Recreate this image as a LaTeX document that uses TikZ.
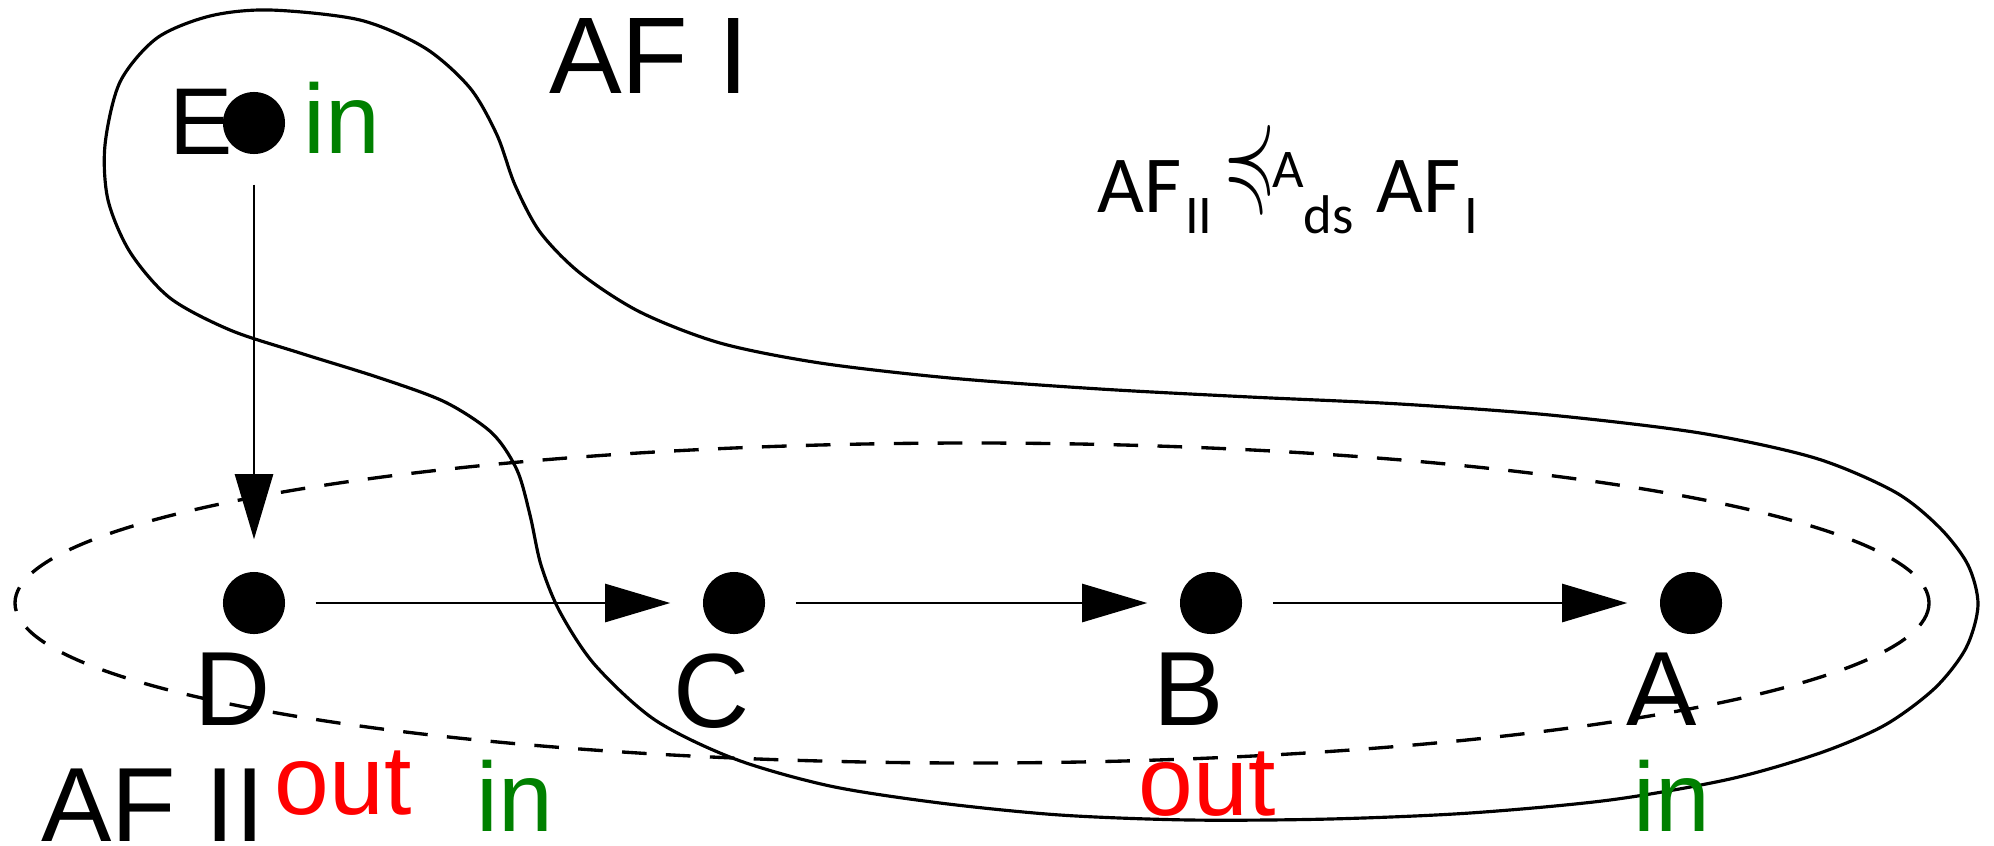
\documentclass[tikz,border=0pt]{standalone}
\usepackage{fontspec}
\usepackage{amssymb}
\usepackage{graphicx}
\setmainfont{Liberation Sans}
\newfontfamily\formfont{Carlito}
\usetikzlibrary{arrows.meta, positioning}
\definecolor{ingreen}{HTML}{008000}
\definecolor{outred}{HTML}{FF0000}
\newcommand{\relsub}[1]{\raisebox{-6pt}{\fontsize{15.5}{15.5}\selectfont #1}}
\newcommand{\relsup}[1]{\raisebox{7pt}{\fontsize{15.5}{15.5}\selectfont #1}}
\newcommand{\relsym}{\raisebox{4.5pt}{\resizebox*{15pt}{27pt}{$\preccurlyeq$}}}
\tikzset{
    vertex/.style={
        circle, fill=black, minimum size=6.2mm, inner sep=0pt
    },
    vname/.style={
        anchor=base, inner sep=0pt, font=\fontsize{30}{30}\selectfont
    },
    inlab/.style={
        anchor=base, inner sep=0pt, text=ingreen, font=\fontsize{28}{28}\selectfont
    },
    outlab/.style={
        anchor=base, inner sep=0pt, text=outred, font=\fontsize{28}{28}\selectfont
    },
    framelab/.style={
        anchor=base, inner sep=0pt, font=\fontsize{31}{31}\selectfont
    },
    relation/.style={
        anchor=base west, inner sep=0pt, font=\formfont\fontsize{23}{23}\selectfont
    },
    arrow/.style={
        -{Triangle[length=6.5mm, width=3.8mm]}, line width=0.7pt,
        shorten <=3mm, shorten >=3.2mm
    },
    afone/.style={
        line width=0.9pt
    },
    aftwo/.style={
        line width=0.95pt, dash pattern=on 7pt off 5.5pt
    }
}
\begin{document}
\begin{tikzpicture}[x=0.01cm, y=-0.01cm]
    \useasboundingbox (0,0) rectangle (1994,845);

    % ── Argumentation frameworks ──
    \draw[aftwo] (972,603) ellipse [x radius=957, y radius=160];
    \draw[afone] plot[smooth cycle, tension=0.5] coordinates {
        (270,10) (360,20) (425,48) (470,88) (497,135) (515,185) (540,232)
        (580,273) (640,312) (720,343) (820,363) (950,378) (1100,389)
        (1250,397) (1400,404) (1550,415) (1700,433) (1815,458) (1895,492)
        (1940,528) (1968,565) (1978,605) (1966,648) (1935,688) (1885,725)
        (1820,753) (1730,779) (1610,800) (1470,813) (1330,819) (1190,820)
        (1060,815) (940,803) (830,786) (735,759) (655,720) (595,665)
        (560,612) (541,565) (530,515) (517,470) (492,433) (445,402)
        (380,378) (300,353) (230,330) (170,298) (130,252) (108,200)
        (105,145) (120,82) (157,38) (210,16)};

    % ── Nodes ──
    \node[vertex] (e) at (254,123) {};
    \node[vertex] (d) at (254,603) {};
    \node[vertex] (c) at (734,603) {};
    \node[vertex] (b) at (1211,603) {};
    \node[vertex] (a) at (1691,603) {};

    % ── Arrows ──
    \draw[arrow] (e) -- (d);
    \draw[arrow] (d) -- (c);
    \draw[arrow] (c) -- (b);
    \draw[arrow] (b) -- (a);

    % ── Labels ──
    \node[vname, font=\fontsize{27}{27}\selectfont] (ename) at (201,154) {E};
    \node[vname] (dname) at (233,725) {D};
    \node[vname] (cname) at (712,727) {C};
    \node[vname] (bname) at (1189,725) {B};
    \node[vname] (aname) at (1662,725) {A};

    \node[inlab]  (ein)  at (342,153) {in};
    \node[outlab] (dout) at (343,814) {out};
    \node[inlab]  (cin)  at (515,831) {in};
    \node[outlab] (bout) at (1207,815) {out};
    \node[inlab]  (ain)  at (1672,831) {in};

    \node[framelab] (afi)  at (649,93)  {AF I};
    \node[framelab, font=\fontsize{30}{30}\selectfont] (afii) at (153,841) {AF II};

    \node[relation] (rel) at (1097,212)
        {AF\hspace{1pt}\relsub{II}\hspace{3pt}\relsym\hspace{-1pt}\relsup{A}\relsub{ds}\hspace{6.5pt}AF\hspace{1pt}\relsub{I}};

\end{tikzpicture}
\end{document}
